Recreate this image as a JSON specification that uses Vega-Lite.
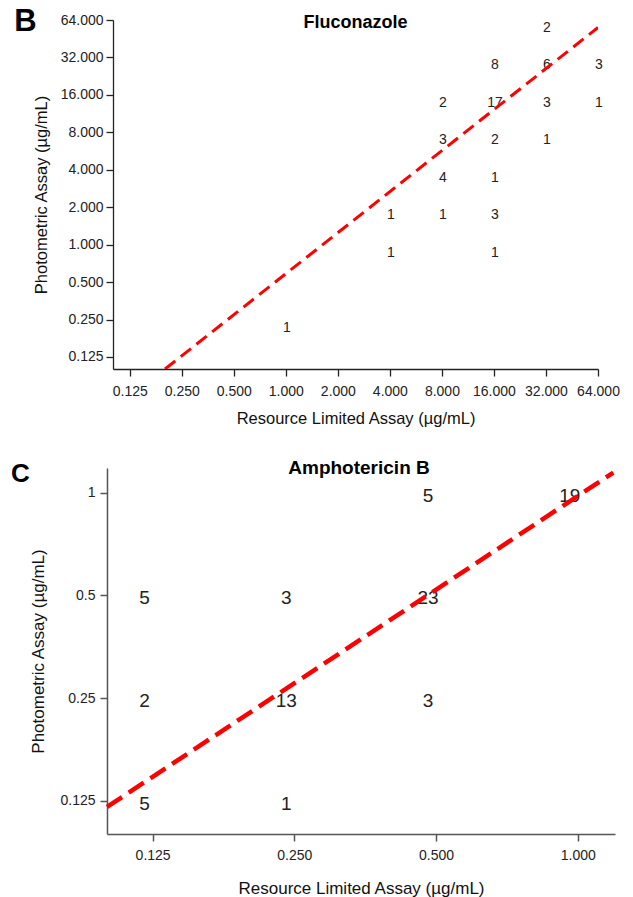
{
  "$schema": "https://vega.github.io/schema/vega-lite/v6.json",
  "padding": {"left": 10, "top": 6, "right": 5, "bottom": 5},
  "config": {
    "view": {"stroke": null},
    "font": "Liberation Sans",
    "axis": {"grid": false, "labelFont": "Liberation Sans", "titleFont": "Liberation Sans", "titleFontWeight": "normal", "labelFontSize": 14, "tickSize": 7, "titleColor": "#111", "labelColor": "#222"}
  },
  "datasets": {
    "fluc": [
      {"x": 32, "y": 64, "n": 2},
      {"x": 16, "y": 32, "n": 8},
      {"x": 32, "y": 32, "n": 6},
      {"x": 64, "y": 32, "n": 3},
      {"x": 8, "y": 16, "n": 2},
      {"x": 16, "y": 16, "n": 17},
      {"x": 32, "y": 16, "n": 3},
      {"x": 64, "y": 16, "n": 1},
      {"x": 8, "y": 8, "n": 3},
      {"x": 16, "y": 8, "n": 2},
      {"x": 32, "y": 8, "n": 1},
      {"x": 8, "y": 4, "n": 4},
      {"x": 16, "y": 4, "n": 1},
      {"x": 4, "y": 2, "n": 1},
      {"x": 8, "y": 2, "n": 1},
      {"x": 16, "y": 2, "n": 3},
      {"x": 4, "y": 1, "n": 1},
      {"x": 16, "y": 1, "n": 1},
      {"x": 1, "y": 0.25, "n": 1}
    ],
    "flucLine": [
      {"x": 0.2, "y": 0.1},
      {"x": 64, "y": 55.7}
    ],
    "ampho": [
      {"x": 0.5, "y": 1, "n": 5},
      {"x": 1, "y": 1, "n": 19},
      {"x": 0.125, "y": 0.5, "n": 5},
      {"x": 0.25, "y": 0.5, "n": 3},
      {"x": 0.5, "y": 0.5, "n": 23},
      {"x": 0.125, "y": 0.25, "n": 2},
      {"x": 0.25, "y": 0.25, "n": 13},
      {"x": 0.5, "y": 0.25, "n": 3},
      {"x": 0.125, "y": 0.125, "n": 5},
      {"x": 0.25, "y": 0.125, "n": 1}
    ],
    "amphoLine": [
      {"x": 0.1, "y": 0.12},
      {"x": 1.19, "y": 1.144}
    ]
  },
  "spacing": 31,
  "vconcat": [
    {
      "title": {"text": "B", "anchor": "start", "frame": "bounds", "font": "Liberation Sans Narrow, Liberation Sans", "fontSize": 31, "fontWeight": "bold", "offset": -25, "dx": -19, "color": "#000"},
      "vconcat": [
        {
          "width": 485,
          "height": 349,
          "title": {"text": "Fluconazole", "anchor": "middle", "frame": "group", "fontSize": 18, "fontWeight": "bold", "offset": -19, "color": "#000"},
          "encoding": {
            "x": {"field": "x", "type": "quantitative",
              "scale": {"type": "log", "base": 2, "domain": [0.1, 64], "nice": false},
              "axis": {"values": [0.125, 0.25, 0.5, 1, 2, 4, 8, 16, 32, 64], "format": ".3f", "title": "Resource Limited Assay (µg/mL)", "titleFontSize": 16.5, "labelPadding": 8, "titlePadding": 12, "domainColor": "#222", "tickColor": "#222", "domainWidth": 1.3, "tickWidth": 1.3, "labelFlush": false, "labelOverlap": false}},
            "y": {"field": "y", "type": "quantitative",
              "scale": {"type": "log", "base": 2, "domain": [0.1, 64], "nice": false},
              "axis": {"values": [0.125, 0.25, 0.5, 1, 2, 4, 8, 16, 32, 64], "format": ".3f", "title": "Photometric Assay (µg/mL)", "titleFontSize": 16.5, "labelPadding": 3, "titlePadding": 11, "domainColor": "#222", "tickColor": "#222", "domainWidth": 1.3, "tickWidth": 1.3, "labelFlush": false, "labelOverlap": false}}
          },
          "layer": [
            {"data": {"name": "fluc"},
             "mark": {"type": "text", "fontSize": 14, "dy": 8, "dx": 1, "color": "#222", "baseline": "middle"},
             "encoding": {"text": {"field": "n", "type": "quantitative"}}},
            {"data": {"name": "flucLine"},
             "mark": {"type": "line", "color": "#ff0000", "strokeWidth": 3, "strokeDash": [13, 7], "clip": true},
             "encoding": {}}
          ]
        }
      ]
    },
    {
      "title": {"text": "C", "anchor": "start", "frame": "bounds", "font": "Liberation Sans Narrow, Liberation Sans", "fontSize": 26, "fontWeight": "bold", "offset": -28, "dx": -19, "color": "#000"},
      "vconcat": [
        {
          "width": 502,
          "height": 366,
          "title": {"text": "Amphotericin B", "anchor": "middle", "frame": "group", "fontSize": 19, "fontWeight": "bold", "offset": -14, "dx": -5, "color": "#000"},
          "encoding": {
            "x": {"field": "x", "type": "quantitative",
              "scale": {"type": "log", "base": 2, "domain": [0.1, 1.2], "range": [-6, 502], "nice": false},
              "axis": {"values": [0.125, 0.25, 0.5, 1], "format": ".3f", "title": "Resource Limited Assay (µg/mL)", "titleFontSize": 17, "labelPadding": 7, "titlePadding": 18, "domainColor": "#555", "tickColor": "#555", "domainWidth": 1.5, "tickWidth": 1.5, "labelFlush": false, "labelOverlap": false}},
            "y": {"field": "y", "type": "quantitative",
              "scale": {"type": "log", "base": 2, "domain": [0.1, 1.18], "nice": false},
              "axis": {"values": [0.125, 0.25, 0.5, 1], "format": "~g", "title": "Photometric Assay (µg/mL)", "titleFontSize": 17, "labelPadding": 5, "titlePadding": 12, "offset": 6, "domainColor": "#555", "tickColor": "#555", "domainWidth": 1.5, "tickWidth": 1.5, "labelFlush": false, "labelOverlap": false}}
          },
          "layer": [
            {"data": {"name": "ampho"},
             "mark": {"type": "text", "fontSize": 19, "dy": 3, "dx": -8, "color": "#222", "baseline": "middle", "clip": false},
             "encoding": {"text": {"field": "n", "type": "quantitative"}}},
            {"data": {"name": "amphoLine"},
             "mark": {"type": "line", "color": "#ff0000", "strokeWidth": 4.5, "strokeDash": [18, 8], "clip": false},
             "encoding": {}}
          ]
        }
      ]
    }
  ]
}
